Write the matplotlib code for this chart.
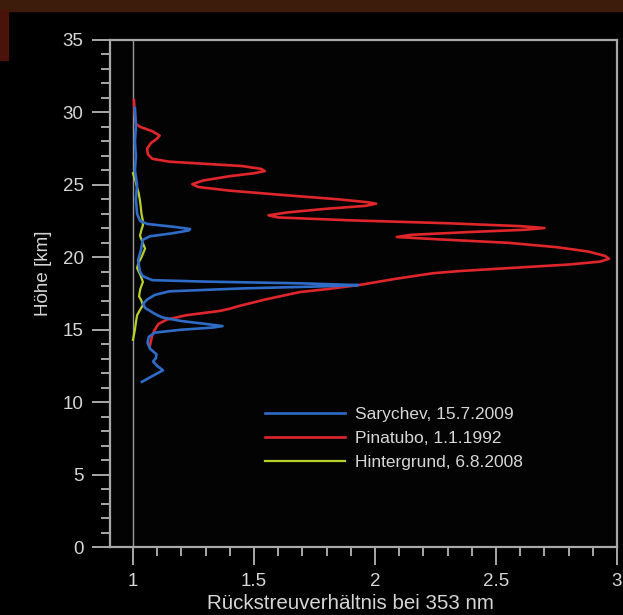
import numpy as np
import matplotlib.pyplot as plt
from matplotlib.patches import Rectangle
from matplotlib.ticker import MultipleLocator

plt.rcParams['font.family'] = ['Liberation Sans', 'DejaVu Sans']

# Pinatubo, 1.1.1992 (Höhe in km, Rückstreuverhältnis)
pin_h = [30.85, 30.3, 29.8, 29.2, 29.0, 28.7, 28.4, 28.2, 27.9, 27.5, 27.1, 26.8,
         26.6, 26.45, 26.3, 26.1, 25.95, 25.8, 25.6, 25.3, 25.05, 24.85, 24.6, 24.3,
         24.0, 23.8, 23.7, 23.55, 23.35, 23.1, 22.9, 22.75, 22.55, 22.35, 22.15, 22.02,
         21.9, 21.75, 21.55, 21.4, 21.25, 21.0, 20.7, 20.4, 20.1, 19.9, 19.7, 19.5,
         19.25, 19.05, 18.9, 18.5, 18.1, 17.8, 17.6, 17.1, 16.6, 16.45, 16.3, 16.0,
         15.7, 15.4, 15.0, 14.6, 13.9]
pin_v = [1.004, 1.006, 1.008, 1.012, 1.030, 1.080, 1.110, 1.100, 1.075, 1.058, 1.062, 1.080,
         1.150, 1.300, 1.450, 1.530, 1.545, 1.500, 1.400, 1.290, 1.245, 1.270, 1.400, 1.620,
         1.850, 1.970, 2.005, 1.960, 1.800, 1.640, 1.560, 1.600, 1.900, 2.300, 2.600, 2.700,
         2.620, 2.400, 2.150, 2.090, 2.250, 2.550, 2.750, 2.880, 2.950, 2.967, 2.930, 2.800,
         2.550, 2.350, 2.240, 2.080, 1.940, 1.800, 1.690, 1.550, 1.430, 1.400, 1.360, 1.220,
         1.140, 1.105, 1.090, 1.079, 1.070]

# Sarychev, 15.7.2009
sar_h = [11.4, 11.8, 12.2, 12.5, 12.8, 13.05, 13.3, 13.7, 14.1, 14.5, 14.8, 15.0,
         15.15, 15.25, 15.4, 15.6, 15.85, 16.1, 16.5, 16.8, 17.1, 17.4, 17.65, 17.85,
         18.0, 18.08, 18.2, 18.32, 18.42, 18.7, 19.0, 19.8, 20.5, 21.2, 21.45, 21.65,
         21.85, 21.95, 22.1, 22.3, 22.5, 23.0, 24.0, 25.0, 26.0, 27.0, 28.0, 29.0, 30.3]
sar_v = [1.037, 1.080, 1.124, 1.100, 1.083, 1.095, 1.097, 1.070, 1.060, 1.065, 1.090, 1.200,
         1.330, 1.370, 1.300, 1.200, 1.120, 1.090, 1.050, 1.042, 1.060, 1.090, 1.150, 1.450,
         1.800, 1.930, 1.700, 1.300, 1.080, 1.040, 1.029, 1.021, 1.033, 1.040, 1.070, 1.160,
         1.230, 1.236, 1.170, 1.060, 1.030, 1.017, 1.012, 1.017, 1.008, 1.012, 1.008, 1.012, 1.008]

# Hintergrund, 6.8.2008
bg_h = [14.3, 15.0, 15.5, 16.0, 16.4, 16.7, 17.0, 17.3, 17.8, 18.3, 18.8, 19.25,
        19.6, 20.0, 20.6, 21.0, 21.5, 21.9, 22.2, 22.6, 23.0, 23.5, 23.9, 24.4,
        24.8, 25.3, 25.8]
bg_v = [1.000, 1.008, 1.012, 1.017, 1.030, 1.041, 1.035, 1.025, 1.030, 1.041, 1.030, 1.017,
        1.022, 1.035, 1.050, 1.040, 1.029, 1.035, 1.041, 1.040, 1.035, 1.032, 1.029, 1.024,
        1.017, 1.010, 1.000]

xtick_vals = [1, 1.5, 2, 2.5, 3]
xtick_labels = ['1', '1.5', '2', '2.5', '3']
ytick_vals = [0, 5, 10, 15, 20, 25, 30, 35]

txt = '#d6d6d6'
grau = '#a8a8a8'

fig = plt.figure(figsize=(6.23, 6.15), dpi=100, facecolor='black')
ax = fig.add_axes([110/623, 68/615, 507/623, 507/615])
ax.set_facecolor('#030303')

# brauner Rand oben
fig.add_artist(Rectangle((0, 1 - 11/615), 1, 11/615, transform=fig.transFigure,
                         color='#3e1c0c', zorder=0))
fig.add_artist(Rectangle((0, 1 - 60/615), 8/623, 50/615, transform=fig.transFigure,
                         color='#4a130a', zorder=0))

ax.axvline(1, color='#9a9a9a', linewidth=1.0, zorder=1)
ax.plot(pin_v, pin_h, color='#e0262b', linewidth=1.9, label='Pinatubo, 1.1.1992', zorder=2)
ax.plot(sar_v, sar_h, color='#2e6cc8', linewidth=1.9, label='Sarychev, 15.7.2009', zorder=3)
ax.plot(bg_v, bg_h, color='#b8cf2c', linewidth=1.6, label='Hintergrund, 6.8.2008', zorder=2)

ax.set_xlim(0.905, 3.0)
ax.set_ylim(0, 35)
ax.set_xticks(xtick_vals, xtick_labels)
ax.set_yticks(ytick_vals)
ax.xaxis.set_minor_locator(MultipleLocator(0.1))
ax.yaxis.set_minor_locator(MultipleLocator(1))

ax.tick_params(which='both', direction='out', color=grau, width=1.4, labelcolor=txt,
               labelsize=13.5)
ax.tick_params(which='major', length=13, pad=6)
ax.tick_params(which='minor', length=6.5)
for s in ax.spines.values():
    s.set_color(grau)
    s.set_linewidth(1.6)

ax.set_xlabel('Rückstreuverhältnis bei 353 nm', color=txt, fontsize=14.8)
ax.set_ylabel('Höhe [km]', color=txt, fontsize=13.5)
ax.xaxis.set_label_coords(0.475, -0.092)
ax.yaxis.set_label_coords(-0.115, 0.54)

handles, labels = ax.get_legend_handles_labels()
order = [1, 0, 2]
leg = ax.legend([handles[i] for i in order], [labels[i] for i in order],
                loc='center left', bbox_to_anchor=(0.306, 0.214), frameon=False,
                fontsize=12.5, handlelength=4.6, handletextpad=0.55, labelspacing=0.5,
                borderpad=0, borderaxespad=0)
for t in leg.get_texts():
    t.set_color(txt)

fig.savefig('out.png', dpi=100, facecolor='black')
